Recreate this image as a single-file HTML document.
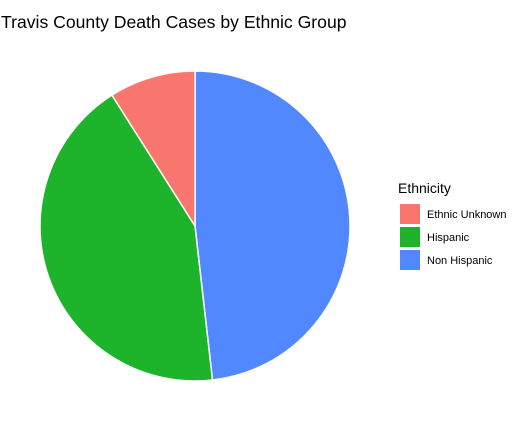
<!DOCTYPE html>
<html><head><meta charset="utf-8"><style>
body{margin:0;background:#fff;font-family:"Liberation Sans",sans-serif}
</style></head><body>
<svg width="513" height="429" font-family="Liberation Sans, sans-serif">
<text x="1" y="28" font-size="17.6" fill="#000">Travis County Death Cases by Ethnic Group</text>
<g id="pie"></g>
<g>
<text x="398" y="193" font-size="14">Ethnicity</text>
<g id="legend"></g>
</g>
</svg>
<script>
const categories=["Non Hispanic","Hispanic","Ethnic Unknown"];
const values=[48.2,42.8,9.0];
const colors={"Ethnic Unknown":"#F8766D","Hispanic":"#1DB32A","Non Hispanic":"#5288FF"};
const legendOrder=["Ethnic Unknown","Hispanic","Non Hispanic"];
const ns="http://www.w3.org/2000/svg";
const cx=195,cy=226,r=155;
const total=values.reduce((a,b)=>a+b,0);
function pt(a){return [cx+r*Math.sin(a),cy-r*Math.cos(a)];}
let acc=0;
const pie=document.getElementById('pie');
categories.forEach((c,i)=>{
  const a0=acc/total*2*Math.PI; acc+=values[i]; const a1=acc/total*2*Math.PI;
  const p0=pt(a0),p1=pt(a1);
  const p=document.createElementNS(ns,'path');
  p.setAttribute('d',`M${cx},${cy}L${p0[0]},${p0[1]}A${r},${r} 0 ${a1-a0>Math.PI?1:0} 1 ${p1[0]},${p1[1]}Z`);
  p.setAttribute('fill',colors[c]);p.setAttribute('stroke','#fff');p.setAttribute('stroke-width','1.5');
  
  
  pie.appendChild(p);
});
const lg=document.getElementById('legend');
legendOrder.forEach((c,i)=>{
  const y=204+i*23;
  const rc=document.createElementNS(ns,'rect');
  rc.setAttribute('x',400);rc.setAttribute('y',y);rc.setAttribute('width',20);rc.setAttribute('height',20);
  rc.setAttribute('fill',colors[c]);
  
  
  lg.appendChild(rc);
  const t=document.createElementNS(ns,'text');
  t.setAttribute('x',427);t.setAttribute('y',y+14);t.setAttribute('font-size','11');
  t.textContent=c;
  
  
  lg.appendChild(t);
});
</script>
</body></html>
